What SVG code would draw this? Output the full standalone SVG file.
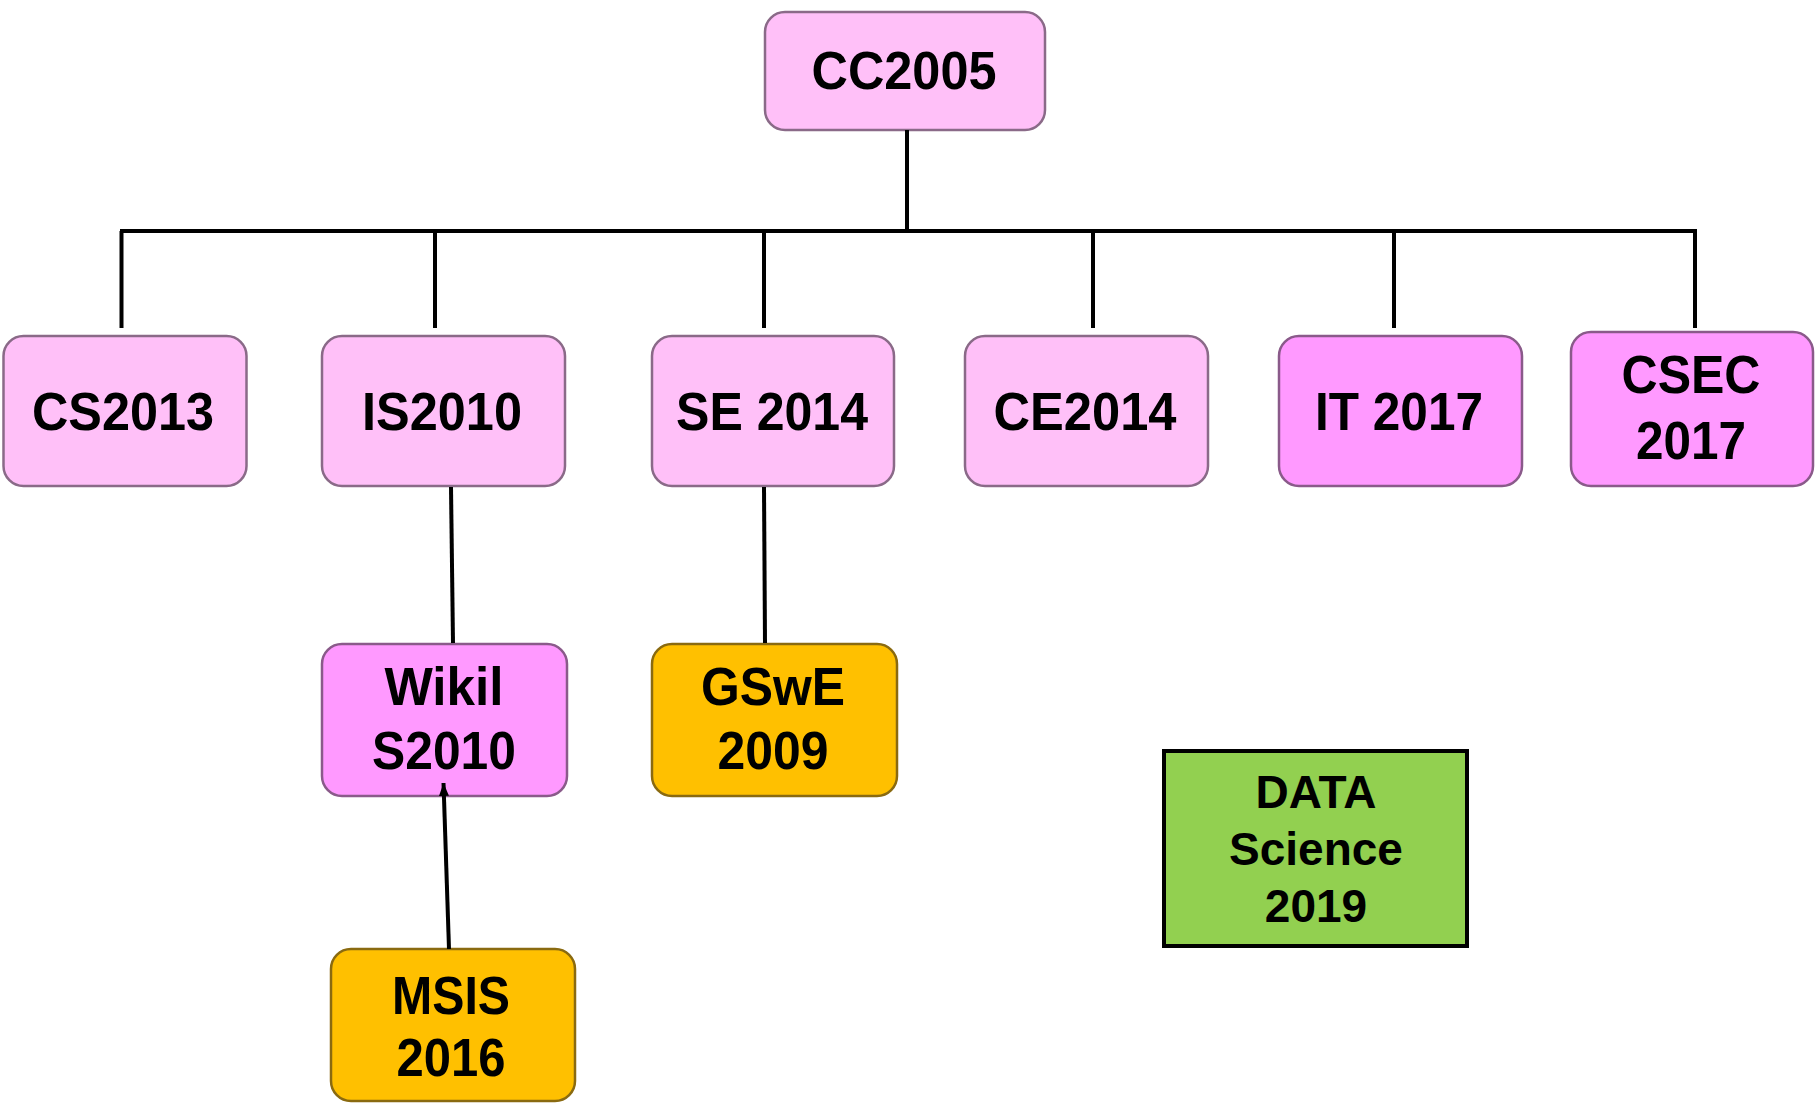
<svg xmlns="http://www.w3.org/2000/svg" width="1815" height="1103" viewBox="0 0 1815 1103">
<style>
.box{stroke-width:2.5}
.lt{fill:#FFC0F8;stroke:#8A6A88}
.pk{fill:#FF99FF;stroke:#8A5A8A}
.or{fill:#FFC000;stroke:#8A6A10}
.gr{fill:#92D050;stroke:#000;stroke-width:4}
text{font-family:"Liberation Sans",Arial,sans-serif;font-weight:bold;font-size:54px;fill:#000;text-anchor:middle}
.ds{font-size:46px}
.ln{stroke:#000;stroke-width:4;fill:none}
</style>
<defs>
<marker id="ah" markerWidth="13" markerHeight="10" refX="13" refY="5" orient="auto" markerUnits="userSpaceOnUse" viewBox="0 0 13 10">
<path d="M0,0 L13,5 L0,10 z" fill="#000"/>
</marker>
</defs>
<rect width="1815" height="1103" fill="#fff"/>
<g id="cc2005"><rect class="box lt" x="765" y="12" width="280" height="118" rx="20"/><text x="904" y="89" textLength="185" lengthAdjust="spacingAndGlyphs">CC2005</text></g>
<g id="cs2013"><rect class="box lt" x="3.5" y="336" width="243" height="150" rx="20"/><text x="123" y="430" textLength="182" lengthAdjust="spacingAndGlyphs">CS2013</text></g>
<g id="is2010"><rect class="box lt" x="322" y="336" width="243" height="150" rx="20"/><text x="442" y="430" textLength="160" lengthAdjust="spacingAndGlyphs">IS2010</text></g>
<g id="se2014"><rect class="box lt" x="652" y="336" width="242" height="150" rx="20"/><text x="772" y="430" textLength="192" lengthAdjust="spacingAndGlyphs">SE 2014</text></g>
<g id="ce2014"><rect class="box lt" x="965" y="336" width="243" height="150" rx="20"/><text x="1085" y="430" textLength="183" lengthAdjust="spacingAndGlyphs">CE2014</text></g>
<g id="it2017"><rect class="box pk" x="1279" y="336" width="243" height="150" rx="20"/><text x="1399" y="430" textLength="168" lengthAdjust="spacingAndGlyphs">IT 2017</text></g>
<g id="csec2017"><rect class="box pk" x="1571" y="332" width="242" height="154" rx="20" stroke="#888"/><text x="1691" y="393" textLength="139" lengthAdjust="spacingAndGlyphs">CSEC</text><text x="1691" y="459" textLength="110" lengthAdjust="spacingAndGlyphs">2017</text></g>
<g id="wikis2010"><rect class="box pk" x="322" y="644" width="245" height="152" rx="20"/><text x="444" y="705" textLength="119" lengthAdjust="spacingAndGlyphs">Wikil</text><text x="444" y="769" textLength="144" lengthAdjust="spacingAndGlyphs">S2010</text></g>
<g id="gswe2009"><rect class="box or" x="652" y="644" width="245" height="152" rx="20"/><text x="773" y="705" textLength="144" lengthAdjust="spacingAndGlyphs">GSwE</text><text x="773" y="769" textLength="111" lengthAdjust="spacingAndGlyphs">2009</text></g>
<g id="msis2016"><rect class="box or" x="331" y="949" width="244" height="152" rx="20"/><text x="451" y="1014" textLength="118" lengthAdjust="spacingAndGlyphs">MSIS</text><text x="451" y="1076" textLength="109" lengthAdjust="spacingAndGlyphs">2016</text></g>
<g id="datascience2019"><rect class="gr" x="1164" y="751" width="303" height="195"/><text class="ds" x="1316" y="808">DATA</text><text class="ds" x="1316" y="865">Science</text><text class="ds" x="1316" y="922">2019</text></g>
<g id="connectors">
<line class="ln" x1="907" y1="130" x2="907" y2="231"/>
<line class="ln" x1="120" y1="231" x2="1697" y2="231"/>
<line class="ln" x1="121.5" y1="231" x2="121.5" y2="328"/>
<line class="ln" x1="435" y1="231" x2="435" y2="328"/>
<line class="ln" x1="764" y1="231" x2="764" y2="328"/>
<line class="ln" x1="1093" y1="231" x2="1093" y2="328"/>
<line class="ln" x1="1394" y1="231" x2="1394" y2="328"/>
<line class="ln" x1="1695" y1="231" x2="1695" y2="328"/>
<line class="ln" x1="451" y1="487" x2="453" y2="643"/>
<line class="ln" x1="764" y1="487" x2="765" y2="643"/>
<line class="ln" x1="449" y1="949" x2="443.5" y2="783" stroke-width="3.5" marker-end="url(#ah)"/>
</g>
</svg>
